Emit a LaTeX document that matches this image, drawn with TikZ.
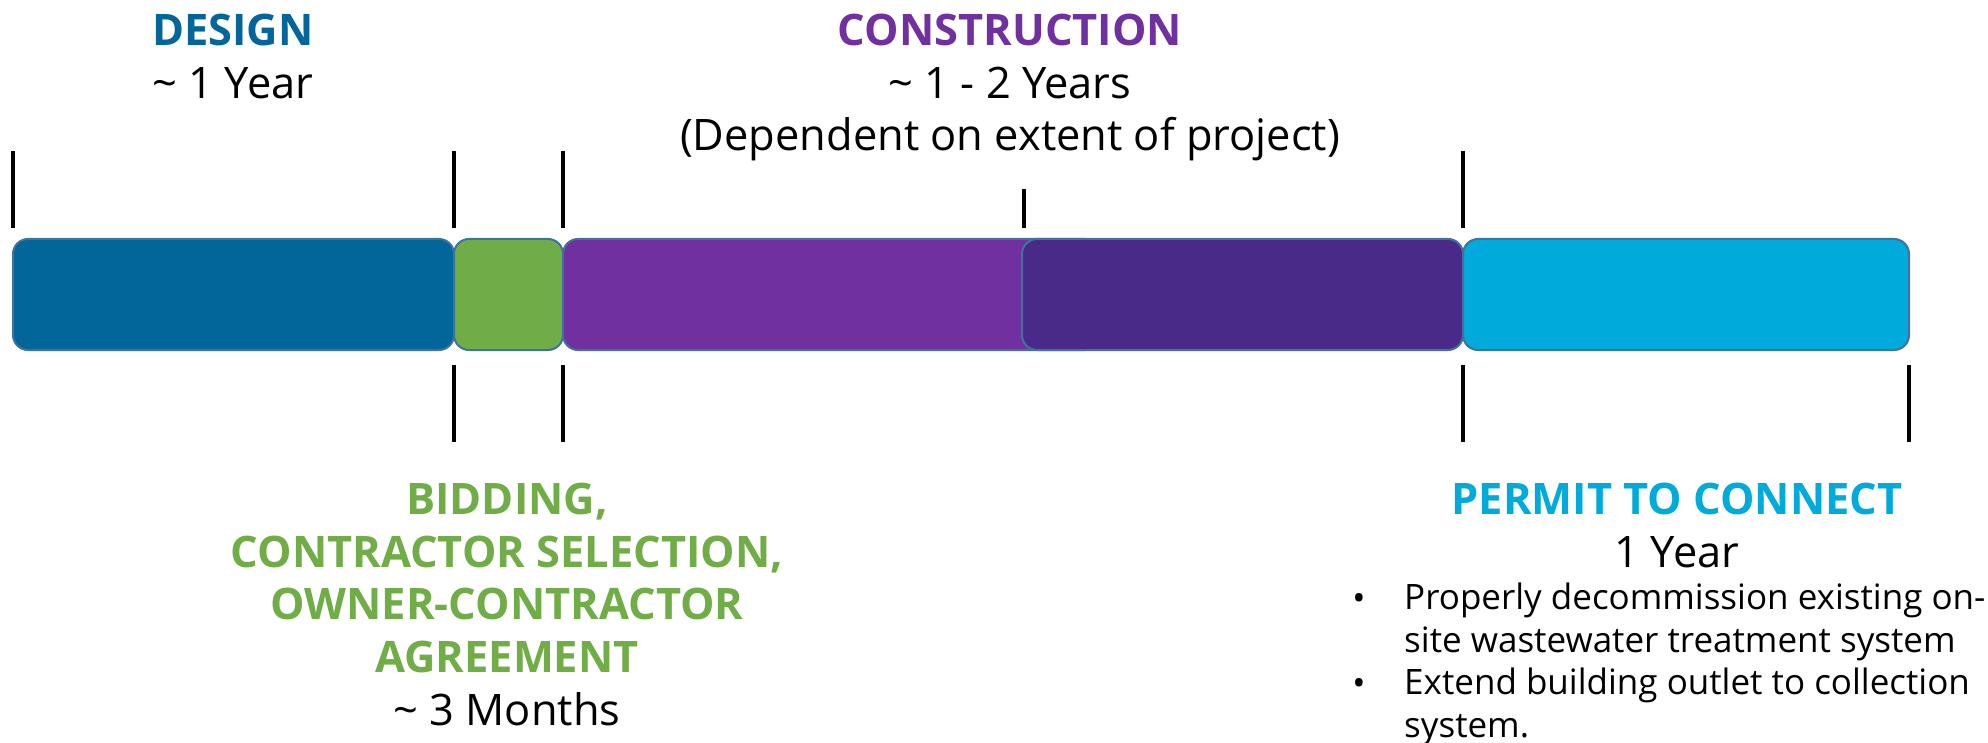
\documentclass[tikz,border=0pt]{standalone}
\usepackage{fontspec}
\setmainfont{Open Sans}
\definecolor{designblue}{HTML}{02669A}
\definecolor{bidgreen}{HTML}{70AD47}
\definecolor{buildpurple}{HTML}{7030A0}
\definecolor{buildviolet}{HTML}{492A88}
\definecolor{permitcyan}{HTML}{00AADB}
\definecolor{barline}{HTML}{41719C}

\begin{document}
\begin{tikzpicture}[x=1pt, y=-1pt,
    bar/.style={draw=barline, line width=2pt, rounded corners=15pt},
    tickmark/.style={line width=4.5pt},
    phase/.style={font=\fontsize{43.4}{52.6}\selectfont, align=center, inner sep=0pt, anchor=north},
    bullettext/.style={font=\fontsize{35}{42.4}\selectfont, align=left, inner sep=0pt}]
    \useasboundingbox (0,0) rectangle (1988,743);

    % Draw the phase bars (construction split in two halves)
    \draw[bar, fill=designblue] (13,239) rectangle (454,350);
    \draw[bar, fill=bidgreen] (454,239) rectangle (563,350);
    \draw[bar, fill=buildpurple] (563,239) rectangle (1100,350);
    \draw[bar, fill=buildviolet] (1022,239) rectangle (1463,350);
    \draw[bar, fill=permitcyan] (1463,239) rectangle (1909,350);

    % Draw tick marks above and below the bars
    \foreach \x in {13, 454, 563, 1463} \draw[tickmark] (\x,151) -- (\x,228);
    \draw[tickmark] (1024,189) -- (1024,228);
    \foreach \x in {454, 563, 1463, 1909} \draw[tickmark] (\x,365) -- (\x,442);

    % Phase labels
    \node[phase] (design) at (233,14) {\textcolor{designblue}{\bfseries DESIGN}\\\textasciitilde{} 1 Year};
    \node[phase] (construction) at (1010,14) {\textcolor{buildpurple}{\bfseries CONSTRUCTION}\\\textasciitilde{} 1 - 2 Years\\(Dependent on extent of project)};
    \node[phase] (bidding) at (507,483) {\color{bidgreen}\bfseries BIDDING,\\\color{bidgreen}\bfseries CONTRACTOR SELECTION,\\\color{bidgreen}\bfseries OWNER-CONTRACTOR\\\color{bidgreen}\bfseries AGREEMENT\\\textasciitilde{} 3 Months};
    \node[phase] (permit) at (1677,483) {\textcolor{permitcyan}{\bfseries PERMIT TO CONNECT}\\1 Year};

    % Bulleted notes under the permit label
    \node[bullettext, anchor=base] (dot1) at (1359,610) {\textbullet};
    \node[bullettext, anchor=base] (dot2) at (1359,695) {\textbullet};
    \node[bullettext, anchor=north west] (item1) at (1404,583) {Properly decommission existing on-\\site wastewater treatment system};
    \node[bullettext, anchor=north west] (item2) at (1404,668) {Extend building outlet to collection\\system.};
\end{tikzpicture}
\end{document}
